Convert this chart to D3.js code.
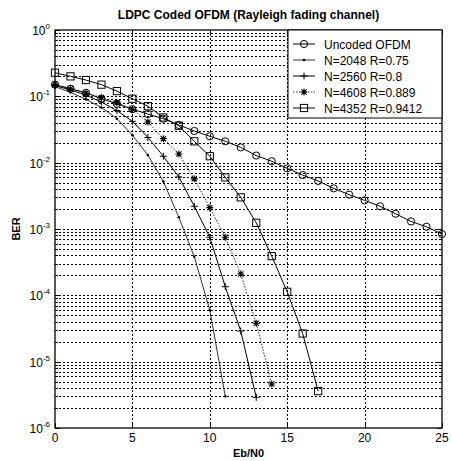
<!DOCTYPE html>
<html>
<head>
<meta charset="utf-8">
<script src="https://d3js.org/d3.v7.min.js"></script>
<style>
  body { margin: 0; background: #fff; }
  text { font-family: "Liberation Sans", Arial, sans-serif; fill: #000; }
</style>
</head>
<body>
<svg id="chart" width="452" height="461"></svg>
<script>
// data (Eb/N0 in dB, BER)
const snrUncoded = [0,1,2,3,4,5,6,7,8,9,10,11,12,13,14,15,16,17,18,19,20,21,22,23,24,25];
const berUncoded = [0.15,0.13,0.113,0.092,0.077,0.064,0.054,0.046,0.037,0.030,0.025,0.021,0.017,0.0128,0.0105,
                    0.0082,0.0065,0.0053,0.0041,0.0033,0.0027,0.0022,0.0017,0.0013,0.00108,0.00084];

const snr2048 = [0,1,2,3,4,5,6,7,8,9,10,11];
const ber2048 = [0.14,0.115,0.09,0.068,0.046,0.026,0.013,0.0052,0.0015,3.8e-4,6e-5,3e-6];

const snr2560 = [0,1,2,3,4,5,6,7,8,9,10,11,12,13];
const ber2560 = [0.145,0.125,0.104,0.082,0.061,0.042,0.024,0.0125,0.0061,0.0022,7.5e-4,1.35e-4,2.9e-5,2.9e-6];

const snr4608 = [0,1,2,3,4,5,6,7,8,9,10,11,12,13,14];
const ber4608 = [0.15,0.13,0.112,0.096,0.08,0.064,0.041,0.023,0.0135,0.0057,0.0021,7.5e-4,2.1e-4,3.8e-5,4.6e-6];

const snr4352 = [0,1,2,3,4,5,6,7,8,9,10,11,12,13,14,15,16,17];
const ber4352 = [0.227,0.2,0.176,0.15,0.12,0.092,0.071,0.048,0.036,0.021,0.0125,0.006,0.003,0.00124,3.9e-4,1.13e-4,2.66e-5,3.6e-6];

const legendNames = ["Uncoded OFDM", "N=2048 R=0.75", "N=2560 R=0.8", "N=4608 R=0.889", "N=4352 R=0.9412"];
const xTicks = [0, 5, 10, 15, 20, 25];
const yDecades = [0, -1, -2, -3, -4, -5, -6];

const svg = d3.select("#chart");
const pLeft = 55, pRight = 442, pTop = 30, pBottom = 428;

const x = d3.scaleLinear().domain([0, 25]).range([pLeft, pRight]);
const y = d3.scaleLog().domain([1e-6, 1]).range([pBottom, pTop]);
const snap = v => Math.round(v) + 0.5;

// grid
const grid = svg.append("g")
    .attr("stroke", "#000")
    .attr("stroke-width", 1)
    .attr("shape-rendering", "crispEdges")
    .attr("stroke-dasharray", "2,2");
grid.selectAll(".gx")
  .data(xTicks.filter(d => d > 0 && d < 25))
  .join("line")
    .attr("x1", d => snap(x(d))).attr("x2", d => snap(x(d)))
    .attr("y1", pTop).attr("y2", pBottom);
grid.selectAll(".gy")
  .data(y.ticks().filter(d => d > 1e-6 && d < 1))
  .join("line")
    .attr("x1", pLeft).attr("x2", pRight)
    .attr("y1", d => snap(y(d))).attr("y2", d => snap(y(d)));

// ticks (inside, MATLAB style)
const tk = svg.append("g").attr("stroke", "#000").attr("stroke-width", 1)
    .attr("shape-rendering", "crispEdges");
xTicks.forEach(d => {
  tk.append("line").attr("x1", snap(x(d))).attr("x2", snap(x(d))).attr("y1", pBottom).attr("y2", pBottom - 5);
  tk.append("line").attr("x1", snap(x(d))).attr("x2", snap(x(d))).attr("y1", pTop).attr("y2", pTop + 5);
});
y.ticks().forEach(d => {
  const major = Math.abs(Math.log10(d) - Math.round(Math.log10(d))) < 1e-9;
  const len = major ? 5 : 3;
  tk.append("line").attr("x1", pLeft).attr("x2", pLeft + len).attr("y1", snap(y(d))).attr("y2", snap(y(d)));
  tk.append("line").attr("x1", pRight).attr("x2", pRight - len).attr("y1", snap(y(d))).attr("y2", snap(y(d)));
});

// axes box
svg.append("rect")
    .attr("x", pLeft).attr("y", pTop)
    .attr("width", pRight - pLeft).attr("height", pBottom - pTop)
    .attr("fill", "none").attr("stroke", "#000").attr("stroke-width", 1.3);

// tick labels
svg.append("g").selectAll("text")
  .data(xTicks)
  .join("text")
    .attr("x", d => x(d)).attr("y", pBottom + 14)
    .attr("text-anchor", "middle")
    .style("font-size", "12px")
    .text(d => d);

const yl = svg.append("g").selectAll("text")
  .data(yDecades)
  .join("text")
    .attr("x", pLeft - 5).attr("y", d => y(Math.pow(10, d)) + 5)
    .attr("text-anchor", "end")
    .style("font-size", "12px");
yl.append("tspan").text("10");
yl.append("tspan").attr("dy", -6).style("font-size", "8px").text(d => d);

// markers
function marker(g, type, cx, cy) {
  if (type === "circle") {
    g.append("circle").attr("cx", cx).attr("cy", cy).attr("r", 3.6)
      .attr("fill", "none").attr("stroke", "#000").attr("stroke-width", 1);
  } else if (type === "dot") {
    g.append("circle").attr("cx", cx).attr("cy", cy).attr("r", 1.3).attr("fill", "#000");
  } else if (type === "plus") {
    g.append("path").attr("d", `M${cx-3.5},${cy}H${cx+3.5}M${cx},${cy-3.5}V${cy+3.5}`)
      .attr("stroke", "#000").attr("stroke-width", 1);
  } else if (type === "star") {
    g.append("path").attr("d", `M${cx-3.5},${cy}H${cx+3.5}M${cx},${cy-3.5}V${cy+3.5}` +
        `M${cx-2.6},${cy-2.6}L${cx+2.6},${cy+2.6}M${cx-2.6},${cy+2.6}L${cx+2.6},${cy-2.6}`)
      .attr("stroke", "#000").attr("stroke-width", 1.1);
  } else if (type === "square") {
    g.append("rect").attr("x", cx - 3.6).attr("y", cy - 3.6).attr("width", 7.2).attr("height", 7.2)
      .attr("fill", "none").attr("stroke", "#000").attr("stroke-width", 1);
  }
}

const series = [
  {xs: snrUncoded, ys: berUncoded, mk: "circle", dash: null, w: 1},
  {xs: snr2048, ys: ber2048, mk: "dot", dash: null, w: 0.8},
  {xs: snr2560, ys: ber2560, mk: "plus", dash: null, w: 1},
  {xs: snr4608, ys: ber4608, mk: "star", dash: "1.5,1.5", w: 0.8},
  {xs: snr4352, ys: ber4352, mk: "square", dash: null, w: 1}
];

const line = d3.line().x(d => x(d[0])).y(d => y(d[1]));

series.forEach(s => {
  const pts = s.xs.map((v, i) => [v, s.ys[i]]);
  const g = svg.append("g");
  g.append("path").datum(pts)
    .attr("d", line)
    .attr("fill", "none").attr("stroke", "#000")
    .attr("stroke-width", s.w)
    .attr("stroke-dasharray", s.dash);
  pts.forEach(p => marker(g, s.mk, x(p[0]), y(p[1])));
});

// legend
const lg = svg.append("g");
lg.append("rect")
    .attr("x", 288).attr("y", pTop).attr("width", pRight - 288).attr("height", 88)
    .attr("fill", "#fff").attr("stroke", "#000").attr("stroke-width", 1);
legendNames.forEach((name, i) => {
  const s = series[i];
  const ly = 44 + i * 16;
  lg.append("line").attr("x1", 293).attr("x2", 315).attr("y1", ly).attr("y2", ly)
    .attr("stroke", "#000").attr("stroke-width", s.w).attr("stroke-dasharray", s.dash);
  marker(lg, s.mk, 304, ly);
  lg.append("text").attr("x", 324).attr("y", ly + 4.5)
    .style("font-size", "12px").text(name);
});

// title and axis labels
svg.append("text")
    .attr("x", (pLeft + pRight) / 2).attr("y", 19)
    .attr("text-anchor", "middle")
    .style("font-size", "12px").style("font-weight", "bold")
    .text("LDPC Coded OFDM (Rayleigh fading channel)");

svg.append("text")
    .attr("x", (pLeft + pRight) / 2).attr("y", 457)
    .attr("text-anchor", "middle")
    .style("font-size", "11px").style("font-weight", "bold")
    .text("Eb/N0");

svg.append("text")
    .attr("transform", `translate(20,${(pTop + pBottom) / 2}) rotate(-90)`)
    .attr("text-anchor", "middle")
    .style("font-size", "11px").style("font-weight", "bold")
    .text("BER");
</script>
</body>
</html>
